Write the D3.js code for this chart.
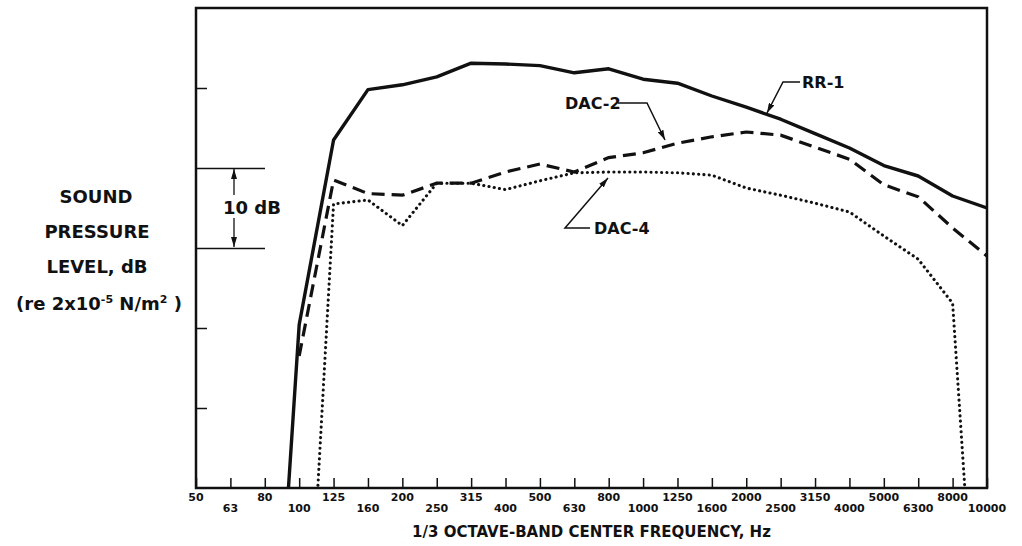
<!DOCTYPE html>
<html lang="en">
<head>
<meta charset="utf-8">
<title>Sound pressure level, 1/3 octave bands</title>
<script src="https://d3js.org/d3.v7.min.js"></script>
<style type="text/css">
  body { margin: 0; background: #fff; }
  svg text { font-family: "DejaVu Sans", sans-serif; font-weight: bold; fill: #111; }
</style>
</head>
<body>
<script type="text/javascript">

// 1/3 octave band centre frequencies (tick labels)
var bands = ["50", "63", "80", "100", "125", "160", "200", "250", "315", "400", "500", "630",
             "800", "1000", "1250", "1600", "2000", "2500", "3150", "4000", "5000", "6300", "8000", "10000"];

// sound pressure level, dB (null = not drawn)
var rr1  = [null, null, -5, 60.4, 83.5, 89.8, 90.4, 91.4, 93.1, 93.0, 92.8, 91.9,
            92.4, 91.1, 90.6, 89.0, 87.6, 86.1, 84.3, 82.5, 80.3, 79.0, 76.5, 75.0];
var dac2 = [null, null, null, 56.5, 78.5, 76.8, 76.6, 78.1, 78.1, 79.5, 80.5, 79.5,
            81.3, 81.9, 83.1, 83.9, 84.5, 84.1, 82.6, 81.1, 77.9, 76.4, 72.5, 69.0];
var dac4 = [null, null, null, -2, 75.5, 76.0, 72.8, 78.1, 78.1, 77.3, 78.4, 79.4,
            79.5, 79.5, 79.4, 79.1, 77.5, 76.6, 75.6, 74.5, 71.5, 68.6, 63.1, -2];

var shortTicks = [50, 60, 90];
var bracketTicks = [70, 80];

var W = 1022, H = 546;
var margin = {top: 8, right: 35, bottom: 58, left: 196};
var width = W - margin.left - margin.right;
var height = H - margin.top - margin.bottom;

var svg = d3.select("body").append("svg")
    .attr("width", W)
    .attr("height", H);

var defs = svg.append("defs");
defs.append("clipPath").attr("id", "plotclip")
  .append("rect").attr("x", 0).attr("y", 0).attr("width", width).attr("height", height);
defs.append("marker")
    .attr("id", "arrow")
    .attr("viewBox", "0 0 10 6")
    .attr("refX", 10).attr("refY", 3)
    .attr("markerWidth", 10).attr("markerHeight", 6)
    .attr("markerUnits", "userSpaceOnUse")
    .attr("orient", "auto")
  .append("path").attr("d", "M0,0 L10,3 L0,6 Z").attr("fill", "#111");

var g = svg.append("g").attr("transform", "translate(" + margin.left + "," + margin.top + ")");

var x = d3.scalePoint().domain(bands).range([0, width]);
var y = d3.scaleLinear().domain([40, 100]).range([height, 0]);

// inward ticks on the left
var yAxis = d3.axisRight(y).tickValues(shortTicks).tickSize(11).tickFormat("");
var yg = g.append("g").call(yAxis);
var yAxis2 = d3.axisRight(y).tickValues(bracketTicks).tickSize(69).tickFormat("");
var yg2 = g.append("g").call(yAxis2);
[yg, yg2].forEach(function(a) {
  a.select(".domain").remove();
  a.selectAll("line").attr("stroke", "#111").attr("stroke-width", 1.5);
});

// upward ticks on the bottom
var xAxis = d3.axisTop(x).tickSize(10).tickFormat("");
var xg = g.append("g").attr("transform", "translate(0," + height + ")").call(xAxis);
xg.select(".domain").remove();
xg.selectAll("line").attr("stroke", "#111").attr("stroke-width", 1.5);

// tick labels, alternating rows
g.append("g").selectAll("text")
  .data(bands)
  .enter().append("text")
  .attr("x", function(d) { return x(d); })
  .attr("y", function(d, i) { return height + (i % 2 === 0 ? 13 : 24); })
  .attr("text-anchor", "middle")
  .attr("font-size", "11px")
  .text(function(d) { return d; });

// frame
g.append("rect")
  .attr("x", 0).attr("y", 0).attr("width", width).attr("height", height)
  .attr("fill", "none").attr("stroke", "#111").attr("stroke-width", 2.5);

// curves
var line = d3.line()
  .defined(function(d) { return d != null; })
  .x(function(d, i) { return x(bands[i]); })
  .y(function(d) { return y(d); });

var curves = g.append("g").attr("clip-path", "url(#plotclip)");
curves.append("path").datum(rr1).attr("d", line)
  .attr("fill", "none").attr("stroke", "#111").attr("stroke-width", 3.4)
  .attr("stroke-linejoin", "round");
curves.append("path").datum(dac2).attr("d", line)
  .attr("fill", "none").attr("stroke", "#111").attr("stroke-width", 3.2)
  .attr("stroke-dasharray", "13,7");
curves.append("path").datum(dac4).attr("d", line)
  .attr("fill", "none").attr("stroke", "#111").attr("stroke-width", 3.1)
  .attr("stroke-linecap", "round")
  .attr("stroke-dasharray", "0.1,5.2");

// 10 dB bracket
var bx = 38;
g.append("line").attr("x1", bx).attr("x2", bx).attr("y1", y(80) + 27).attr("y2", y(80) + 1)
  .attr("stroke", "#111").attr("stroke-width", 1.3).attr("marker-end", "url(#arrow)");
g.append("line").attr("x1", bx).attr("x2", bx).attr("y1", y(70) - 30).attr("y2", y(70) - 1)
  .attr("stroke", "#111").attr("stroke-width", 1.3).attr("marker-end", "url(#arrow)");
g.append("text").attr("x", 56).attr("y", (y(80) + y(70)) / 2 + 6)
  .attr("text-anchor", "middle").attr("font-size", "18px").text("10 dB");

// series labels with leaders (pixel positions in plot coordinates)
function leader(pts) {
  g.append("path").attr("d", d3.line()(pts))
    .attr("fill", "none").attr("stroke", "#111").attr("stroke-width", 1.5)
    .attr("marker-end", "url(#arrow)");
}
leader([[604, 74], [587, 74], [571, 105]]);
leader([[422, 95], [451, 95], [469, 132]]);
leader([[394, 220], [369, 220], [412, 170]]);

g.append("text").attr("x", 606).attr("y", 80).attr("font-size", "16px")
  .attr("font-family", "Liberation Sans, sans-serif").text("RR-1");
g.append("text").attr("x", 369).attr("y", 101).attr("font-size", "16px")
  .attr("font-family", "Liberation Sans, sans-serif").text("DAC-2");
g.append("text").attr("x", 398).attr("y", 226).attr("font-size", "16px")
  .attr("font-family", "Liberation Sans, sans-serif").text("DAC-4");

// axis titles
svg.append("text").attr("x", margin.left + width / 2).attr("y", 537)
  .attr("text-anchor", "middle").attr("font-size", "15px")
  .text("1/3 OCTAVE-BAND CENTER FREQUENCY, Hz");

var yl = svg.append("text").attr("text-anchor", "middle").attr("font-size", "18px");
yl.append("tspan").attr("x", 96).attr("y", 203).text("SOUND");
yl.append("tspan").attr("x", 97).attr("y", 238).text("PRESSURE");
yl.append("tspan").attr("x", 97).attr("y", 273).text("LEVEL, dB");
var l4 = svg.append("text").attr("x", 99).attr("y", 310)
  .attr("text-anchor", "middle").attr("font-size", "18px");
l4.append("tspan").text("(re 2x10");
l4.append("tspan").attr("dy", -7).attr("font-size", "11px").text("-5");
l4.append("tspan").attr("dy", 7).text(" N/m");
l4.append("tspan").attr("dy", -7).attr("font-size", "11px").text("2");
l4.append("tspan").attr("dy", 7).text(" )");

</script>
</body>
</html>
